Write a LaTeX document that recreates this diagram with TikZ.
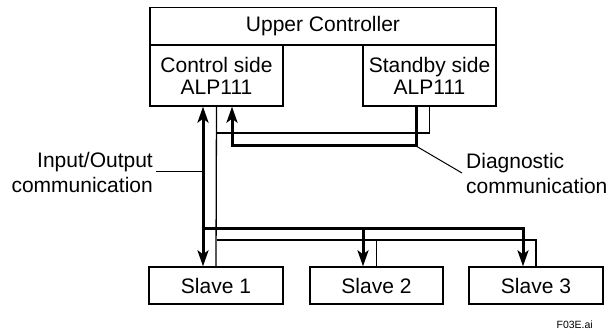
\documentclass[tikz,border=0pt]{standalone}
\usepackage{fontspec}
\setmainfont{Liberation Sans}
\usetikzlibrary{arrows.meta,calc}
\begin{document}
\begin{tikzpicture}[x=1pt,y=-1pt,
  box/.style={draw, line width=1.3pt, inner sep=0pt, align=center,
              font=\fontsize{21}{22}\selectfont},
  thinln/.style={line width=1.3pt},
  thickln/.style={line width=3pt},
  arr/.style={-{Stealth[length=16pt,width=11pt,inset=4pt]}},
  dblarr/.style={{Stealth[length=16pt,width=11pt,inset=4pt]}-{Stealth[length=16pt,width=11pt,inset=4pt]}},
  lbl/.style={inner sep=0pt, font=\fontsize{21}{25}\selectfont}]
\useasboundingbox (0,0) rectangle (607,331);

% boxes
\node[box, minimum width=346pt, minimum height=37.5pt] (upper) at (323,26.25) {Upper Controller};
\node[box, minimum width=133pt, minimum height=61pt] (ctrl) at (216.5,75.5) {Control side\\ALP111};
\node[box, minimum width=133pt, minimum height=61pt] (stby) at (429.5,75.5) {Standby side\\ALP111};
\node[box, minimum width=134pt, minimum height=37pt] (s1) at (216,285.5) {Slave 1};
\node[box, minimum width=133pt, minimum height=37pt] (s2) at (376.5,285.5) {Slave 2};
\node[box, minimum width=134pt, minimum height=37pt] (s3) at (536,285.5) {Slave 3};

% labels
\node[lbl, align=right, anchor=east] (iol) at (153,172) {Input/Output\\communication};
\node[lbl, align=left, anchor=west] (dgl) at (466,173) {Diagnostic\\communication};
\node[inner sep=0pt, anchor=base east, font=\fontsize{10.5}{12}\selectfont] (fig) at (593,328) {F03E.ai};

% helper coordinates
\coordinate (io) at (203,0);
\coordinate (dret) at (232,0);
\coordinate (dout) at (416,0);
\coordinate (a2) at (363,0);
\coordinate (a3) at (523,0);
\coordinate (yd1) at (0,133);
\coordinate (yd2) at (0,146);
\coordinate (ybus) at (0,228);
\coordinate (ythin) at (0,240);

% thin lines
\draw[thinln] (ctrl.south) -- (s1.north);
\draw[thinln] (stby.south) |- (ctrl.south |- yd1);
\draw[thinln] (ctrl.south |- ythin) -| (s3.north);
\draw[thinln] (s2.north) -- (s2.north |- ythin);

% thick I/O communication
\draw[thickln, dblarr] (io |- ctrl.south) -- (io |- s1.north);
\draw[thickln, arr] (io |- ybus) -| (a3 |- s3.north);
\draw[thickln, arr] (a2 |- ybus) -- (a2 |- s2.north);

% thick diagnostic communication
\draw[thickln, arr] (dout |- stby.south) |- (dret |- yd2) -- (dret |- ctrl.south);

% leader lines
\draw[line width=1pt] (iol.east |- 0,172) ++(3,0) -- (io |- 0,172);
\draw[line width=1pt] (dout |- yd2) -- ($(dgl.west)+(-4,0)$);
\end{tikzpicture}
\end{document}
